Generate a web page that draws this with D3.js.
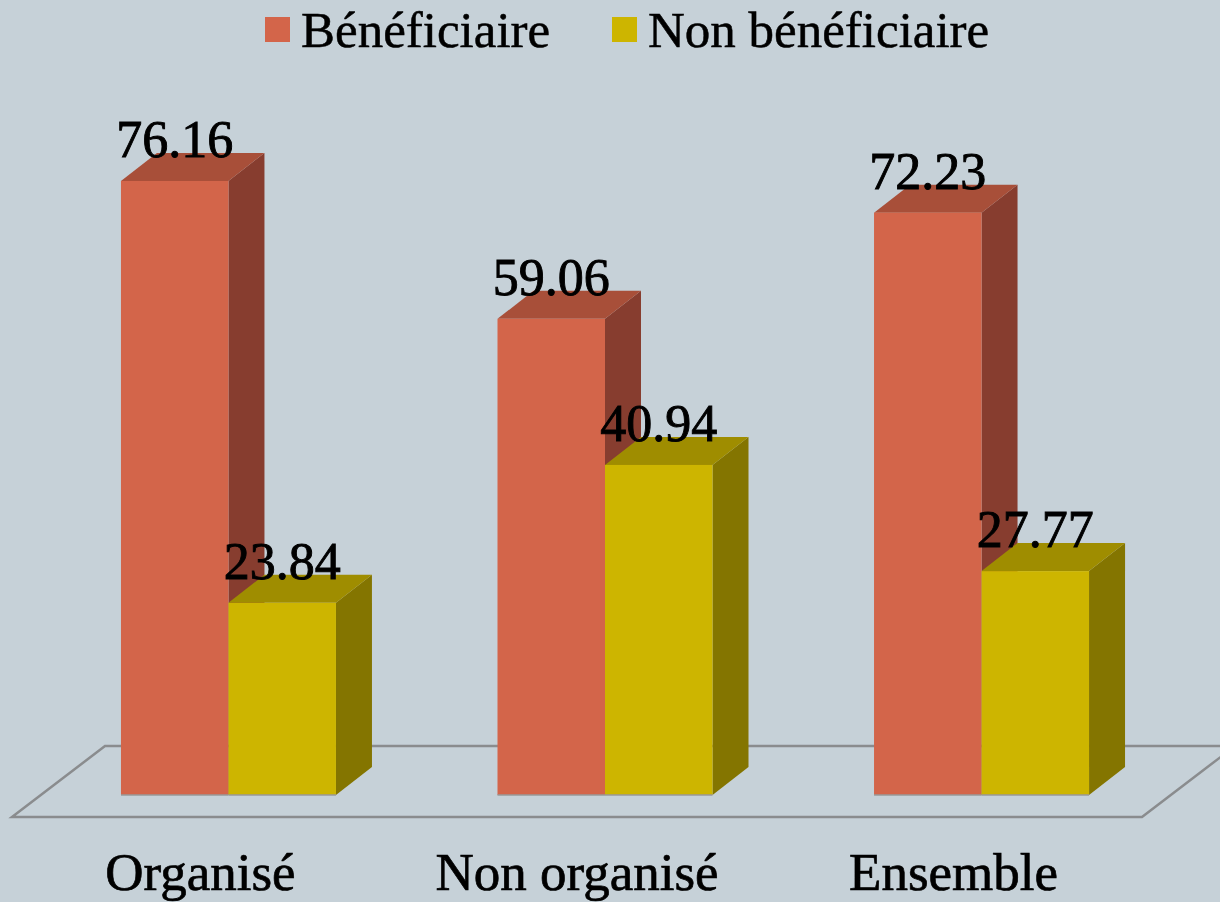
<!DOCTYPE html>
<html lang="fr">
<head>
<meta charset="UTF-8">
<title>Bénéficiaire / Non bénéficiaire</title>
<style>
body {
    margin: 0;
    background-color: #c6d1d8;
}
svg {
    display: block;
}
</style>
</head>
<body>
<div id="plot"></div>
<script src="https://cdn.jsdelivr.net/npm/d3@7"></script>
<script>

// data
const categories = ["Organisé", "Non organisé", "Ensemble"];
const series = ["Bénéficiaire", "Non bénéficiaire"];
const beneficiaire = [76.16, 59.06, 72.23];
const nonBeneficiaire = [23.84, 40.94, 27.77];
const values = [beneficiaire, nonBeneficiaire];

const w = 1220,
      h = 902;

// colours per series: front, top, side
const colors = [
    {front: "#d3654a", top: "#a84f39", side: "#873d2f"},
    {front: "#cdb500", top: "#9f8d00", side: "#847500"}
];

// 3d depth offset
const dx = 36, dy = -28;
const base = 795;

const svg = d3.select("#plot").append("svg")
    .attr("width", w)
    .attr("height", h);

svg.append("rect")
    .attr("width", w)
    .attr("height", h)
    .attr("fill", "#c6d1d8");

const x = d3.scaleBand()
    .domain(categories)
    .range([8, 1202])
    .paddingInner(0.429)
    .paddingOuter(0.3);

const xs = d3.scaleBand()
    .domain(series)
    .range([0, x.bandwidth()]);

const y = d3.scaleLinear()
    .domain([0, 80])
    .range([base, base - 645]);

// floor
const floor = svg.append("g")
    .attr("fill", "none")
    .attr("stroke", "#8a8c8e")
    .attr("stroke-width", 2.5);
floor.append("path")
    .attr("d", "M1240,746 L105,746 L12,817 L1142,817 L1235,746");

// bars
const bars = [];
categories.forEach((c, i) => {
    series.forEach((s, j) => {
        bars.push({cat: c, ser: s, j: j, v: values[j][i]});
    });
});

const g = svg.selectAll(".bar")
    .data(bars)
    .join("g")
    .attr("class", "bar");

g.each(function(d) {
    const el = d3.select(this);
    const x0 = x(d.cat) + xs(d.ser);
    const x1 = x0 + xs.bandwidth();
    const yv = y(d.v);
    const col = colors[d.j];

    el.append("polygon")
        .attr("points", [[x1, yv], [x1 + dx, yv + dy], [x1 + dx, base + dy], [x1, base]].join(" "))
        .attr("fill", col.side);
    el.append("polygon")
        .attr("points", [[x0, yv], [x0 + dx, yv + dy], [x1 + dx, yv + dy], [x1, yv]].join(" "))
        .attr("fill", col.top);
    el.append("rect")
        .attr("x", x0)
        .attr("y", yv)
        .attr("width", x1 - x0)
        .attr("height", base - yv)
        .attr("fill", col.front);
    el.append("line")
        .attr("x1", x0).attr("x2", x1)
        .attr("y1", base).attr("y2", base)
        .attr("stroke", "#999")
        .attr("stroke-width", 1.5);
});

// value labels
svg.selectAll(".val")
    .data(bars)
    .join("text")
    .attr("class", "val")
    .attr("x", d => x(d.cat) + xs(d.ser) + xs.bandwidth() / 2)
    .attr("y", d => y(d.v) - 24)
    .attr("text-anchor", "middle")
    .attr("font-family", "'Liberation Serif', serif")
    .attr("font-size", 52)
    .attr("fill", "#000")
    .attr("stroke", "#000")
    .attr("stroke-width", 0.9)
    .text(d => d.v.toFixed(2));

// category labels
svg.selectAll(".cat")
    .data(categories)
    .join("text")
    .attr("class", "cat")
    .attr("x", d => x(d) + x.bandwidth() / 2 - 28)
    .attr("y", 890)
    .attr("text-anchor", "middle")
    .attr("font-family", "'Liberation Serif', serif")
    .attr("font-size", 53)
    .attr("fill", "#000")
    .attr("stroke", "#000")
    .attr("stroke-width", 0.7)
    .text(d => d);

// legend
const legendX = [265, 612];
const leg = svg.selectAll(".leg")
    .data(series)
    .join("g")
    .attr("class", "leg")
    .attr("transform", (d, i) => `translate(${legendX[i]},17)`);
leg.append("rect")
    .attr("width", 25)
    .attr("height", 25)
    .attr("fill", (d, i) => colors[i].front);
leg.append("text")
    .attr("x", 36)
    .attr("y", 30)
    .attr("font-family", "'Liberation Serif', serif")
    .attr("font-size", 51)
    .attr("fill", "#000")
    .attr("stroke", "#000")
    .attr("stroke-width", 0.5)
    .text(d => d);
</script>
</body>
</html>
